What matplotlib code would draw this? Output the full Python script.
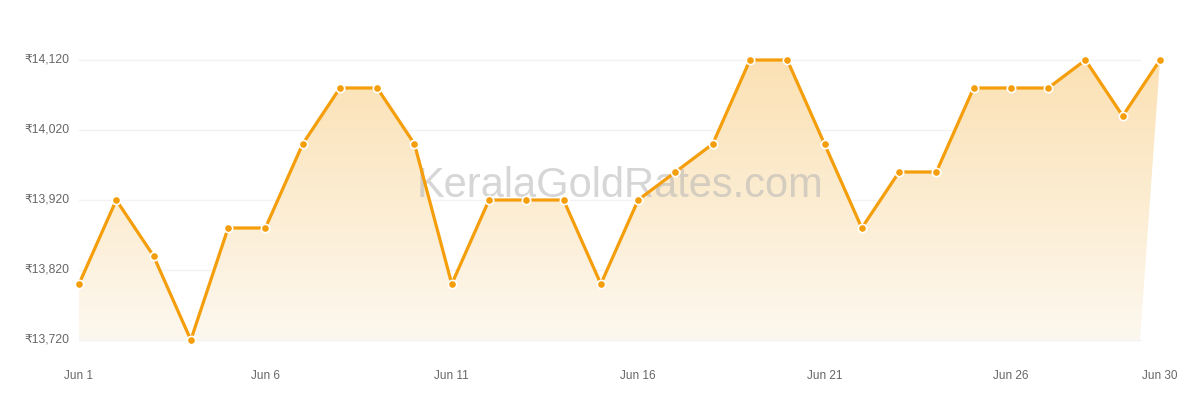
import matplotlib
matplotlib.use("Agg")
import matplotlib.pyplot as plt
import numpy as np
from matplotlib.colors import LinearSegmentedColormap
from matplotlib.patches import Polygon

# Preise Juni (22K, pro Gramm)
days = list(range(1, 31))
prices = [13800, 13920, 13840, 13720, 13880, 13880, 14000, 14080, 14080, 14000,
          13800, 13920, 13920, 13920, 13800, 13920, 13960, 14000, 14120, 14120,
          14000, 13880, 13960, 13960, 14080, 14080, 14080, 14120, 14040, 14120]
y_ticks = [13720, 13820, 13920, 14020, 14120]
x_tick_days = [1, 6, 11, 16, 21, 26, 30]

LINE_COLOR = "#f59e0b"
TEXT_COLOR = "#666666"

plt.rcParams["font.family"] = ["Liberation Sans", "DejaVu Sans"]

fig = plt.figure(figsize=(12, 4), dpi=100)
ax = fig.add_axes([79 / 1200, 0.15, 1081 / 1200, 0.70])
ax.axis("off")

# Gitter endet etwas vor dem letzten Punkt (wie im Original)
x_end = 1 + 29 * (1140 - 79) / (1160 - 79)
for yt in y_ticks:
    ax.plot([1, x_end], [yt, yt], color="#f2f2f2", lw=1, zorder=0, clip_on=False)
    ax.annotate("₹{:,}".format(yt), xy=(1, yt), xytext=(-7, 0),
                textcoords="offset points", ha="right", va="center",
                fontsize=8.7, color=TEXT_COLOR, annotation_clip=False)

for d in x_tick_days:
    ax.annotate("Jun {}".format(d), xy=(d, min(y_ticks)), xytext=(0, -26),
                textcoords="offset points", ha="center", va="center",
                fontsize=8.5, color=TEXT_COLOR, annotation_clip=False)

# Verlaufsfläche
verts = list(zip(days, prices)) + [(x_end, min(y_ticks)), (1, min(y_ticks))]
poly = Polygon(verts, closed=True, facecolor="none", edgecolor="none")
ax.add_patch(poly)
cmap = LinearSegmentedColormap.from_list("fade", ["#fdf8ef", "#fbe1b4"])
grad = np.linspace(0, 1, 256).reshape(-1, 1)
img = ax.imshow(grad, cmap=cmap, aspect="auto", origin="lower",
                extent=[1, 30, min(y_ticks), max(y_ticks)], zorder=1)
img.set_clip_path(poly)
ax.set_xlim(1, 30)
ax.set_ylim(min(y_ticks), max(y_ticks))

# Wasserzeichen
ax.text(0.5, 0.55, "KeralaGoldRates.com", transform=ax.transAxes, ha="center",
        va="center", fontsize=30, color="#b5b5b5", alpha=0.55, zorder=2)

ax.plot(days, prices, color=LINE_COLOR, lw=2.3, zorder=3, clip_on=False,
        marker="o", markersize=6, markerfacecolor=LINE_COLOR,
        markeredgecolor="white", markeredgewidth=1.2)

fig.savefig("out.png", dpi=100, facecolor="white")
